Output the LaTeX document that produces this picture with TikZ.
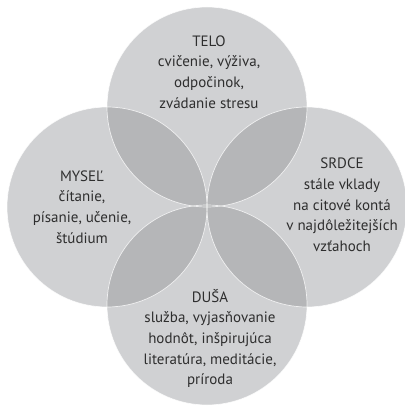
\documentclass[tikz,border=0pt]{standalone}
\usepackage{fontspec}
\setmainfont{PT Sans}
\definecolor{cfill}{HTML}{D0D1D3}
\definecolor{cover}{HTML}{B5B6B8}
\definecolor{ctext}{HTML}{2E2E2E}
\begin{document}
\begin{tikzpicture}[x=1pt,y=-1pt,
  lbl/.style={align=center, text=ctext, inner sep=0pt, font=\fontsize{15}{20.7}\selectfont},
  rim/.style={draw=white, line width=0.7pt, draw opacity=0.75}]
\useasboundingbox (0,0) rectangle (404,406);
\coordinate (ct) at (207,107);
\coordinate (cl) at (107,207);
\coordinate (cr) at (307,207);
\coordinate (cb) at (207,305);
\foreach \c in {ct,cl,cr,cb} \fill[cfill] (\c) circle (100pt);
\foreach \a/\b in {ct/cl,ct/cr,cb/cl,cb/cr}{
  \begin{scope}
    \clip (\a) circle (100pt);
    \fill[cover] (\b) circle (100pt);
  \end{scope}
}
\foreach \c in {ct,cl,cr,cb} \path[rim] (\c) circle (100pt);
\node[lbl] (telo) at (209,72) {TELO\\cvičenie, výživa,\\odpočinok,\\zvádanie stresu};
\node[lbl] (mysel) at (82,207) {MYSEĽ\\čítanie,\\písanie, učenie,\\štúdium};
\node[lbl] (srdce) at (342,205) {SRDCE\\stále vklady\\na citové kontá\\v najdôležitejších\\vzťahoch};
\node[lbl] (dusa) at (210,338.5) {DUŠA\\služba, vyjasňovanie\\hodnôt, inšpirujúca\\literatúra, meditácie,\\príroda};
\end{tikzpicture}
\end{document}
